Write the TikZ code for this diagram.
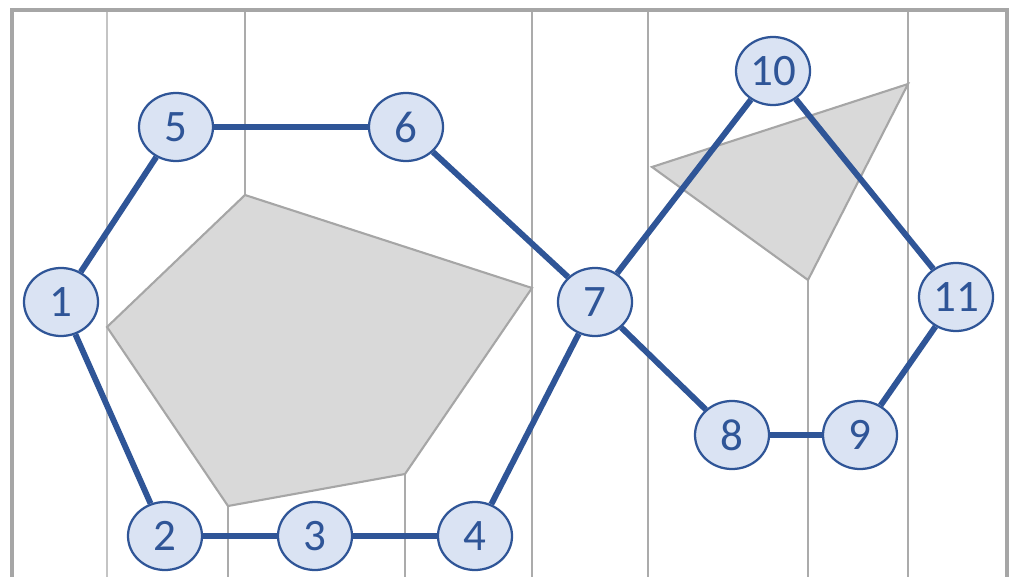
\documentclass[tikz,border=0pt]{standalone}
\usepackage{fontspec}
\setmainfont{Carlito}
\usetikzlibrary{shapes.geometric}
\definecolor{graphBlue}{HTML}{2F5597}
\definecolor{graphFill}{HTML}{DAE3F3}
\definecolor{obstFill}{HTML}{D9D9D9}
\definecolor{obstLine}{HTML}{A6A6A6}
\definecolor{cutGrey}{HTML}{ABABAB}
\definecolor{frameGrey}{HTML}{A6A6A6}

\begin{document}
\begin{tikzpicture}[x=0.025cm, y=-0.025cm,
    vert/.style={ellipse, draw=graphBlue, line width=1.6pt, fill=graphFill,
      minimum width=1.85cm, minimum height=1.7cm, inner sep=0pt,
      text=graphBlue, font=\fontsize{32}{36}\selectfont},
    link/.style={draw=graphBlue, line width=4.2pt},
    obst/.style={fill=obstFill, draw=obstLine, line width=1.5pt},
    cut/.style={draw=cutGrey, line width=1pt},
    frame/.style={draw=frameGrey, line width=2.6pt}]
  \useasboundingbox (0,0) rectangle (1011,577);
  % vertical cuts
  \draw[cut, cutGrey!70] (107,10) -- (107,577);
  \draw[cut] (245,10) -- (245,195);
  \draw[cut] (228,506) -- (228,577);
  \draw[cut] (405,474) -- (405,577);
  \draw[cut] (532,10) -- (532,577);
  \draw[cut] (648,10) -- (648,577);
  \draw[cut] (808,280) -- (808,577);
  \draw[cut] (908,10) -- (908,577);
  \draw[frame] (12,577) -- (12,10) -- (1007,10) -- (1007,577);
  % obstacles
  \draw[obst] (245,195) -- (532,288) -- (405,474) -- (228,506) -- (107,327) -- cycle;
  \draw[obst] (652,167) -- (908,84) -- (808,280) -- cycle;
  % roadmap
  \node[vert] (n1) at (61,302) {1};
  \node[vert] (n2) at (165,536) {2};
  \node[vert] (n3) at (315,536) {3};
  \node[vert] (n4) at (475,536) {4};
  \node[vert] (n5) at (176,127) {5};
  \node[vert] (n6) at (406,127) {6};
  \node[vert] (n7) at (595,302) {7};
  \node[vert] (n8) at (732,435) {8};
  \node[vert] (n9) at (860,435) {9};
  \node[vert] (n10) at (773,71) {10};
  \node[vert] (n11) at (956,297) {11};
  \draw[link] (n1) -- (n5);
  \draw[link] (n5) -- (n6);
  \draw[link] (n6) -- (n7);
  \draw[link] (n7) -- (n4);
  \draw[link] (n4) -- (n3);
  \draw[link] (n3) -- (n2);
  \draw[link] (n2) -- (n1);
  \draw[link] (n7) -- (n10);
  \draw[link] (n10) -- (n11);
  \draw[link] (n11) -- (n9);
  \draw[link] (n9) -- (n8);
  \draw[link] (n8) -- (n7);
\end{tikzpicture}
\end{document}
